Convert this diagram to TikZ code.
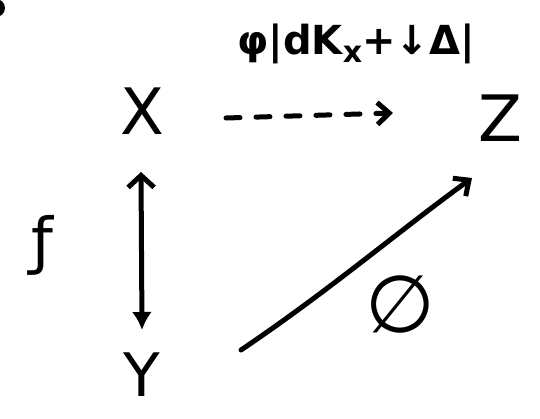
\documentclass[tikz,border=0pt]{standalone}
\usepackage{fontspec}
\setmainfont{DejaVu Sans}
\usetikzlibrary{arrows.meta}
\begin{document}
\begin{tikzpicture}[x=1pt,y=-1pt,
  lbl/.style={inner sep=0pt, font=\fontsize{64}{64}\selectfont},
  stroke/.style={line width=5pt, line cap=round, line join=round},
  opentip/.style={-{Straight Barb[length=12pt,width=22pt,line width=5pt]}}]
\useasboundingbox (0,0) rectangle (540,419);
\fill (-4,8) circle (9);
\node[lbl] (X) at (142,111) {X};
\node[lbl] (Z) at (500,118) {Z};
\node[lbl, font=\fontsize{60}{60}\selectfont] (Y) at (142,375) {Y};
\node[lbl, font=\fontsize{40}{40}\selectfont\bfseries] (top) at (356,44) {φ|dK\raisebox{-0.35ex}{\fontsize{30}{30}\selectfont\bfseries x}+↓Δ|};
\node[lbl, font=\fontsize{62}{62}\selectfont] (f) at (42,245) {ƒ};
\node[lbl, font=\fontsize{80}{80}\selectfont] (phi) at (400,304) {∅};
\coordinate (xr) at (226,118);
\coordinate (zl) at (393,113);
\draw[stroke, dash pattern=on 14pt off 16pt, opentip] (xr) -- (zl);
\coordinate (vt) at (141,172);
\coordinate (vb) at (142,330);
\draw[stroke, {Straight Barb[length=12pt,width=26pt,line width=5pt]}-{Latex[length=18pt,width=20pt]}] (vt) -- (vb);
\coordinate (ds) at (241,350);
\coordinate (de) at (472,178);
\draw[stroke, opentip] (ds) .. controls (330,290) and (400,230) .. (de);
\end{tikzpicture}
\end{document}
